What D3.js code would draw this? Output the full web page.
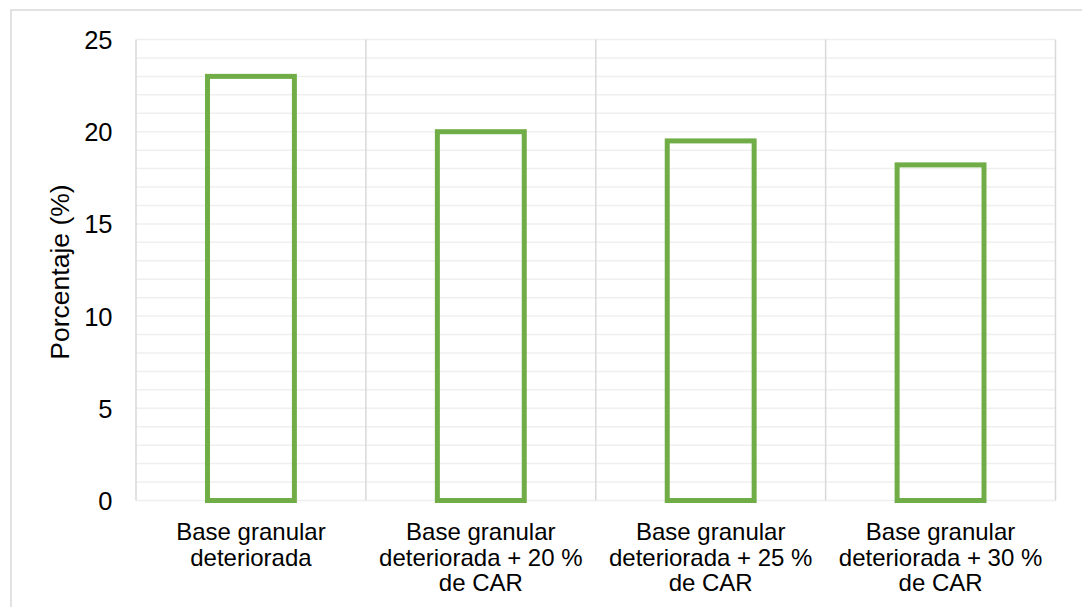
<!DOCTYPE html>
<html>
<head>
<meta charset="utf-8">
<script src="https://cdn.jsdelivr.net/npm/d3@7"></script>
<style>
  html, body { margin: 0; padding: 0; background: #fff; }
  svg { display: block; font-family: "Liberation Sans", Arial, sans-serif; }
</style>
</head>
<body>
<svg id="chart" width="1082" height="607"></svg>
<script>
// Categories (each label split into its display lines)
const categories = [
  ["Base granular", "deteriorada"],
  ["Base granular", "deteriorada + 20 %", "de CAR"],
  ["Base granular", "deteriorada + 25 %", "de CAR"],
  ["Base granular", "deteriorada + 30 %", "de CAR"]
];
const values = [23.0, 20.0, 19.5, 18.2];
const yTicks = [0, 5, 10, 15, 20, 25];
const yTitle = "Porcentaje (%)";

const svg = d3.select("#chart");
const plot = { left: 136, right: 1055.5, top: 39.5, bottom: 500.5 };

// Outer chart frame
svg.append("rect")
  .attr("x", 11).attr("y", 10)
  .attr("width", 1200).attr("height", 800)
  .attr("fill", "none")
  .attr("stroke", "#d9d9d9")
  .attr("stroke-width", 1.5);

const x = d3.scaleBand()
  .domain(d3.range(categories.length))
  .range([plot.left, plot.right])
  .padding(0);

const y = d3.scaleLinear()
  .domain([0, 25])
  .range([plot.bottom, plot.top]);

// Minor horizontal gridlines every 1 unit
const g = svg.append("g");
g.selectAll("line.h")
  .data(d3.range(0, 26))
  .join("line")
  .attr("class", "h")
  .attr("x1", plot.left).attr("x2", plot.right)
  .attr("y1", d => y(d)).attr("y2", d => y(d))
  .attr("stroke", "#efefef")
  .attr("stroke-width", 1.5);

// Vertical separators between categories
g.selectAll("line.v")
  .data(d3.range(categories.length + 1))
  .join("line")
  .attr("class", "v")
  .attr("x1", i => i < categories.length ? x(i) : plot.right)
  .attr("x2", i => i < categories.length ? x(i) : plot.right)
  .attr("y1", plot.top).attr("y2", plot.bottom)
  .attr("stroke", "#d9d9d9")
  .attr("stroke-width", 1.5);

// Bars (outlined only)
const barW = x.bandwidth() * 0.378;
svg.append("g")
  .selectAll("rect")
  .data(values)
  .join("rect")
  .attr("x", (d, i) => x(i) + (x.bandwidth() - barW) / 2)
  .attr("y", d => y(d))
  .attr("width", barW)
  .attr("height", d => y(0) - y(d))
  .attr("fill", "none")
  .attr("stroke", "#70ad47")
  .attr("stroke-width", 5);

// Y axis tick labels
const yAxis = d3.axisLeft(y).tickValues(yTicks).tickSize(0).tickPadding(0);
const ya = svg.append("g")
  .attr("transform", `translate(112.5,0)`)
  .call(yAxis);
ya.select(".domain").remove();
ya.selectAll("text")
  .attr("font-family", "Liberation Sans, Arial, sans-serif")
  .attr("font-size", 25.5)
  .attr("fill", "#000")
  .attr("dy", "0.35em");

// Category labels
const xl = svg.append("g");
categories.forEach((lines, i) => {
  const t = xl.append("text")
    .attr("x", x(i) + x.bandwidth() / 2)
    .attr("y", 540)
    .attr("text-anchor", "middle")
    .attr("font-size", 24)
    .attr("fill", "#000");
  lines.forEach((ln, k) => {
    t.append("tspan")
      .attr("x", x(i) + x.bandwidth() / 2)
      .attr("y", 540 + k * 25.7)
      .text(ln);
  });
});

// Y axis title
svg.append("text")
  .attr("transform", `translate(69,${(plot.top + plot.bottom) / 2 + 2}) rotate(-90)`)
  .attr("text-anchor", "middle")
  .attr("font-size", 26.5)
  .attr("fill", "#000")
  .text(yTitle);
</script>
</body>
</html>
